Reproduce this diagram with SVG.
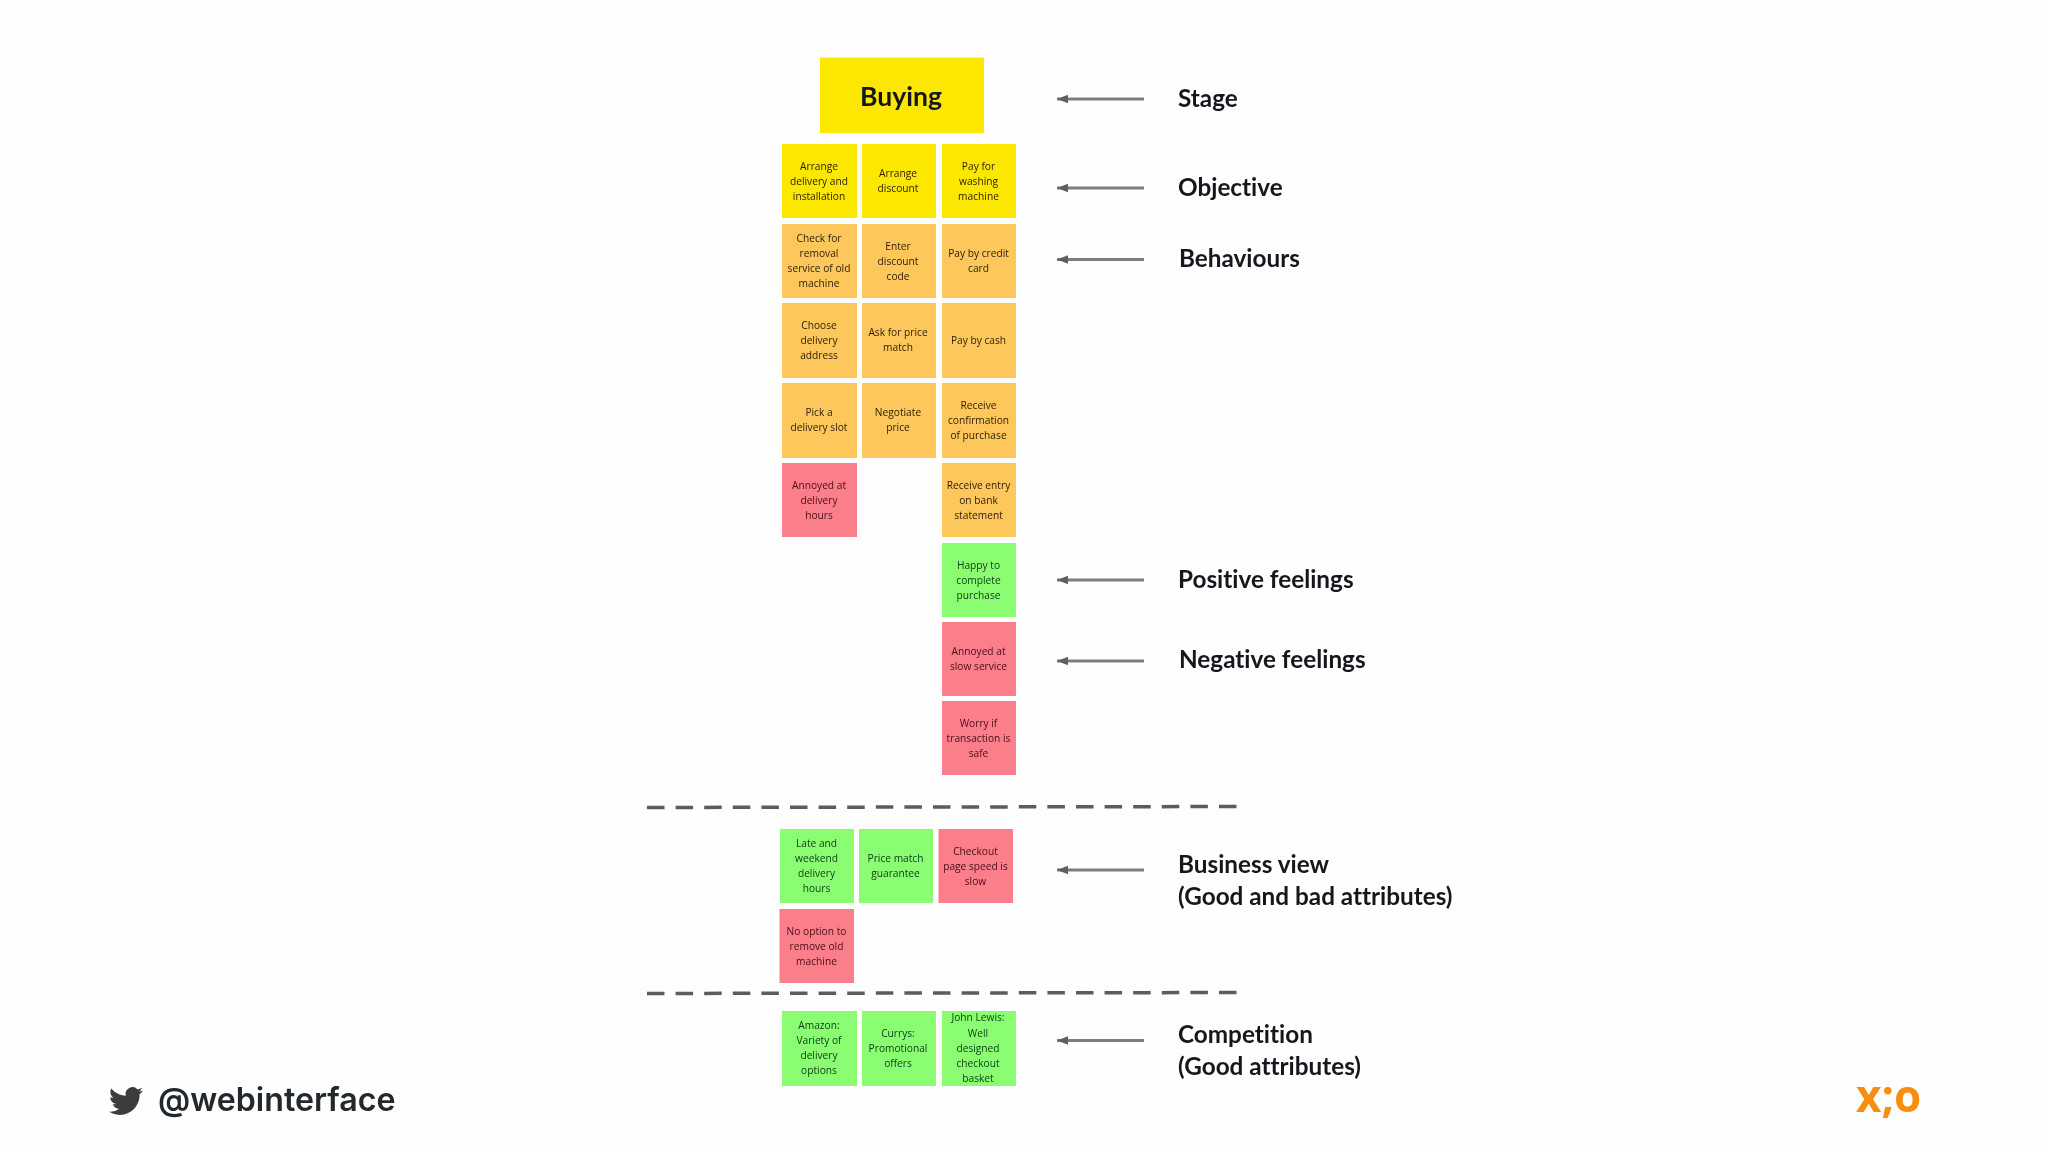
<svg xmlns="http://www.w3.org/2000/svg" width="2048" height="1152" viewBox="0 0 2048 1152">
<style>
.y{fill:#fbe700}.o{fill:#fdc75c}.r{fill:#fb7f8b}.g{fill:#8bfd72}
.t{font-family:"Open Sans","Liberation Sans",sans-serif;font-size:10.200px;text-anchor:middle;fill:#2a1c08;font-weight:500}
.tr{fill:#4a0c18}.tg{fill:#0c4214}
.l{font-family:Lato,"Liberation Sans",sans-serif;font-weight:700;font-size:24.300px;fill:#14181c;font-variant-ligatures:none}
.a{stroke:#7d7d7d;stroke-width:2.800;fill:none;marker-start:url(#h)}
.d{stroke:#5c5c5c;stroke-width:3.500;fill:none;stroke-dasharray:17.500 11.100}
</style>
<defs>
<marker id="h" markerUnits="userSpaceOnUse" markerWidth="12" markerHeight="10" refX="1" refY="5" orient="auto"><path d="M1 5L12 .8V9.200z" fill="#5f5f5f"/></marker>
<filter id="s" x="-5%" y="-5%" width="110%" height="110%"><feGaussianBlur stdDeviation="0.4"/></filter>
</defs>
<rect width="2048" height="1152" fill="#fefefe"/>
<g id="connectors">
<path class="a" d="M1057 99H1144"/><path class="a" d="M1057 188H1144"/><path class="a" d="M1057 259.500H1144"/><path class="a" d="M1057 580H1144"/><path class="a" d="M1057 661H1144"/><path class="a" d="M1057 870H1144"/><path class="a" d="M1057 1040.500H1144"/>
<path class="d" d="M647 807.500L1238 806.500"/><path class="d" d="M647 993.500L1238 992.500"/>
</g>
<g filter="url(#s)">
<g id="stage"><rect class="y" x="820" y="57.500" width="164" height="75.500"/><text x="901" y="106" text-anchor="middle" style="font-family:Lato,'Liberation Sans',sans-serif;font-size:26.500px;font-weight:700;fill:#14181c">Buying</text></g>
<g id="n1" transform="translate(782,144)"><rect class="y" width="75" height="74"/><text class="t"><tspan x="37" y="25.500">Arrange</tspan><tspan x="37" y="40.500">delivery and</tspan><tspan x="37" y="56">installation</tspan></text></g>
<g id="n2" transform="translate(862,144)"><rect class="y" width="74" height="74"/><text class="t"><tspan x="36" y="33">Arrange</tspan><tspan x="36" y="48">discount</tspan></text></g>
<g id="n3" transform="translate(942,144)"><rect class="y" width="74" height="74"/><text class="t"><tspan x="36.500" y="25.500">Pay for</tspan><tspan x="36.500" y="40.500">washing</tspan><tspan x="36.500" y="56">machine</tspan></text></g>
<g id="n4" transform="translate(782,224)"><rect class="o" width="75" height="74"/><text class="t"><tspan x="37" y="17.700">Check for</tspan><tspan x="37" y="33">removal</tspan><tspan x="37" y="48">service of old</tspan><tspan x="37" y="63">machine</tspan></text></g>
<g id="n5" transform="translate(862,224)"><rect class="o" width="74" height="74"/><text class="t"><tspan x="36" y="25.500">Enter</tspan><tspan x="36" y="40.500">discount</tspan><tspan x="36" y="56">code</tspan></text></g>
<g id="n6" transform="translate(942,224)"><rect class="o" width="74" height="74"/><text class="t"><tspan x="36.500" y="33">Pay by credit</tspan><tspan x="36.500" y="48">card</tspan></text></g>
<g id="n7" transform="translate(782,303)"><rect class="o" width="75" height="75"/><text class="t"><tspan x="37" y="25.500">Choose</tspan><tspan x="37" y="40.500">delivery</tspan><tspan x="37" y="56">address</tspan></text></g>
<g id="n8" transform="translate(862,303)"><rect class="o" width="74" height="75"/><text class="t"><tspan x="36" y="33">Ask for price</tspan><tspan x="36" y="48">match</tspan></text></g>
<g id="n9" transform="translate(942,303)"><rect class="o" width="74" height="75"/><text class="t"><tspan x="36.500" y="40.500">Pay by cash</tspan></text></g>
<g id="n10" transform="translate(782,383)"><rect class="o" width="75" height="75"/><text class="t"><tspan x="37" y="33">Pick a</tspan><tspan x="37" y="48">delivery slot</tspan></text></g>
<g id="n11" transform="translate(862,383)"><rect class="o" width="74" height="75"/><text class="t"><tspan x="36" y="33">Negotiate</tspan><tspan x="36" y="48">price</tspan></text></g>
<g id="n12" transform="translate(942,383)"><rect class="o" width="74" height="75"/><text class="t"><tspan x="36.500" y="25.500">Receive</tspan><tspan x="36.500" y="40.500">confirmation</tspan><tspan x="36.500" y="56">of purchase</tspan></text></g>
<g id="n13" transform="translate(782,463)"><rect class="r" width="75" height="74"/><text class="t tr"><tspan x="37" y="25.500">Annoyed at</tspan><tspan x="37" y="40.500">delivery</tspan><tspan x="37" y="56">hours</tspan></text></g>
<g id="n14" transform="translate(942,463)"><rect class="o" width="74" height="74"/><text class="t"><tspan x="36.500" y="25.500">Receive entry</tspan><tspan x="36.500" y="40.500">on bank</tspan><tspan x="36.500" y="56">statement</tspan></text></g>
<g id="n15" transform="translate(942,543)"><rect class="g" width="74" height="74"/><text class="t tg"><tspan x="36.500" y="25.500">Happy to</tspan><tspan x="36.500" y="40.500">complete</tspan><tspan x="36.500" y="56">purchase</tspan></text></g>
<g id="n16" transform="translate(942,622)"><rect class="r" width="74" height="74"/><text class="t tr"><tspan x="36.500" y="33">Annoyed at</tspan><tspan x="36.500" y="48">slow service</tspan></text></g>
<g id="n17" transform="translate(942,701)"><rect class="r" width="74" height="74"/><text class="t tr"><tspan x="36.500" y="25.500">Worry if</tspan><tspan x="36.500" y="40.500">transaction is</tspan><tspan x="36.500" y="56">safe</tspan></text></g>
<g id="n18" transform="translate(780,829)"><rect class="g" width="74" height="74"/><text class="t tg"><tspan x="36.500" y="17.700">Late and</tspan><tspan x="36.500" y="33">weekend</tspan><tspan x="36.500" y="48">delivery</tspan><tspan x="36.500" y="63">hours</tspan></text></g>
<g id="n19" transform="translate(859,829)"><rect class="g" width="74" height="74"/><text class="t tg"><tspan x="36.500" y="33">Price match</tspan><tspan x="36.500" y="48">guarantee</tspan></text></g>
<g id="n20" transform="translate(938.500,829)"><rect class="r" width="74.500" height="74"/><text class="t tr"><tspan x="37" y="25.500">Checkout</tspan><tspan x="37" y="40.500">page speed is</tspan><tspan x="37" y="56">slow</tspan></text></g>
<g id="n21" transform="translate(779.500,909)"><rect class="r" width="74.500" height="74"/><text class="t tr"><tspan x="37" y="25.500">No option to</tspan><tspan x="37" y="40.500">remove old</tspan><tspan x="37" y="56">machine</tspan></text></g>
<g id="n22" transform="translate(782,1011)"><rect class="g" width="75" height="75"/><text class="t tg"><tspan x="37" y="17.700">Amazon:</tspan><tspan x="37" y="33">Variety of</tspan><tspan x="37" y="48">delivery</tspan><tspan x="37" y="63">options</tspan></text></g>
<g id="n23" transform="translate(862,1011)"><rect class="g" width="74" height="75"/><text class="t tg"><tspan x="36" y="25.500">Currys:</tspan><tspan x="36" y="40.500">Promotional</tspan><tspan x="36" y="56">offers</tspan></text></g>
<g id="n24" transform="translate(942,1011)"><rect class="g" width="74" height="75"/><text class="t tg"><tspan x="36" y="10">John Lewis:</tspan><tspan x="36" y="25.500">Well</tspan><tspan x="36" y="40.500">designed</tspan><tspan x="36" y="56">checkout</tspan><tspan x="36" y="71">basket</tspan></text></g>
<g id="labels">
<text class="l" x="1178" y="107">Stage</text>
<text class="l" x="1178" y="196">Objective</text>
<text class="l" x="1179" y="267">Behaviours</text>
<text class="l" x="1178" y="588">Positive feelings</text>
<text class="l" x="1179" y="668">Negative feelings</text>
<text class="l" x="1178" y="873">Business view</text>
<text class="l" x="1178" y="905">(Good and bad attributes)</text>
<text class="l" x="1178" y="1043">Competition</text>
<text class="l" x="1178" y="1075">(Good attributes)</text>
</g>
</g>
<g id="footer">
<path transform="translate(109,1084) scale(1.42)" fill="#3a3d3c" d="M23.953 4.57a10 10 0 01-2.825.775 4.958 4.958 0 002.163-2.723c-.951.555-2.005.959-3.127 1.184a4.92 4.92 0 00-8.384 4.482C7.69 8.095 4.067 6.13 1.64 3.162a4.822 4.822 0 00-.666 2.475c0 1.71.87 3.213 2.188 4.096a4.904 4.904 0 01-2.228-.616v.06a4.923 4.923 0 003.946 4.827 4.996 4.996 0 01-2.212.085 4.936 4.936 0 004.604 3.417 9.867 9.867 0 01-6.102 2.105c-.39 0-.779-.023-1.17-.067a13.995 13.995 0 007.557 2.209c9.053 0 13.998-7.496 13.998-13.985 0-.21 0-.42-.015-.63A9.935 9.935 0 0024 4.59z"/>
<text x="158" y="1111" style="font-family:Inter,'Liberation Sans',sans-serif;font-size:32.200px;font-weight:600;fill:#23282d">@webinterface</text>
<text x="1856" y="1112" style="font-family:'Open Sans','Liberation Sans',sans-serif;font-size:44px;font-weight:700;fill:#f98d0e">x;o</text>
</g>
</svg>
